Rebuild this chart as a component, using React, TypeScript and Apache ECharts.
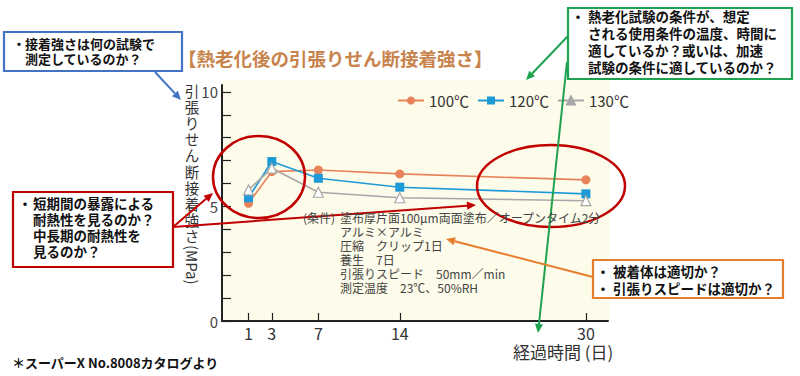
import React, { useEffect, useRef } from "react";
import * as echarts from "echarts";

// ---- data ----
const days = [1, 3, 7, 14, 30];
const dayTicks = [1, 3, 7, 14, 30];
const yTicks = [0, 1, 2, 3, 4, 5, 6, 7, 8, 9, 10];
const yLabels = [0, 5, 10];
const s100 = [5.14, 6.52, 6.59, 6.42, 6.16];
const s120 = [5.38, 6.96, 6.23, 5.84, 5.55];
const s130 = [5.72, 6.67, 5.62, 5.38, 5.25];
const seriesNames = ["100℃", "120℃", "130℃"];

// ---- texts ----
const title = "【熱老化後の引張りせん断接着強さ】";
const yName = "引張りせん断接着強さ";
const yUnit = "(MPa)";
const xName = "経過時間 (日)";
const condPrefix = "(条件)";
const condLines = [
  "塗布厚片面100μm両面塗布／オープンタイム2分",
  "アルミ×アルミ",
  "圧縮　クリップ1日",
  "養生　7日",
  "引張りスピード　50mm／min",
  "測定温度　23℃、50%RH",
];
const noteBlue = ["接着強さは何の試験で", "測定しているのか？"];
const noteGreen = [
  "熱老化試験の条件が、想定",
  "される使用条件の温度、時間に",
  "適しているか？或いは、加速",
  "試験の条件に適しているのか？",
];
const noteRed = ["短期間の暴露による", "耐熱性を見るのか？", "中長期の耐熱性を", "見るのか？"];
const noteOrange = ["被着体は適切か？", "引張りスピードは適切か？"];
const footnote = "＊スーパーX No.8008カタログより";

const FONT = '"Noto Sans CJK JP", "Noto Sans", sans-serif';
const C100 = "#E8825A";
const C120 = "#1E9AD8";
const C130 = "#A8A8A8";
const BLUE = "#4472C4";
const GREEN = "#1FA24F";
const RED = "#C00000";
const ORANGE = "#E67E2E";

function arrow(x1: number, y1: number, x2: number, y2: number, color: string, w = 2, head = 9) {
  const a = Math.atan2(y2 - y1, x2 - x1);
  const bx = x2 - head * Math.cos(a);
  const by = y2 - head * Math.sin(a);
  const px = -Math.sin(a) * head * 0.45;
  const py = Math.cos(a) * head * 0.45;
  return [
    { type: "line", z: 60, shape: { x1, y1, x2: bx, y2: by }, style: { stroke: color, lineWidth: w } },
    {
      type: "polygon",
      z: 60,
      shape: { points: [[x2, y2], [bx + px, by + py], [bx - px, by - py]] },
      style: { fill: color },
    },
  ];
}

function txt(x: number, y: number, text: string, size: number, opts: any = {}) {
  return {
    type: "text",
    z: 61,
    x,
    y,
    style: {
      text,
      fontSize: size,
      fontFamily: FONT,
      fontWeight: opts.weight || "normal",
      fill: opts.fill || "#111",
      align: opts.align || "left",
      verticalAlign: "middle",
      lineHeight: opts.lineHeight,
    },
    rotation: opts.rotation || 0,
  };
}

function box(x: number, y: number, w: number, h: number, color: string) {
  return {
    type: "rect",
    z: 58,
    shape: { x, y, width: w, height: h },
    style: { fill: "#ffffff", stroke: color, lineWidth: 2.2 },
  };
}

function bulletLines(dotX: number, textX: number, y0: number, dy: number, lines: string[], size: number, bulletEach: boolean) {
  const out: any[] = [];
  lines.forEach((l, i) => {
    if (i === 0 || bulletEach) out.push(txt(dotX, y0 + i * dy, "・", size, { weight: "bold", align: "center" }));
    out.push(txt(textX, y0 + i * dy, l, size, { weight: "bold" }));
  });
  return out;
}

export default function App() {
  const ref = useRef<HTMLDivElement>(null);
  useEffect(() => {
    if (!ref.current) return;
    const chart = echarts.init(ref.current, undefined, { renderer: "svg" });

    const graphics: any[] = [
      { type: "rect", z: -10, shape: { x: 222, y: 80, width: 388, height: 241 }, style: { fill: "#FDFBE9" } },
      txt(178, 58, title, 18.5, { weight: "bold", fill: "#C8844C" }),
      // y axis name (vertical)
      {
        type: "text",
        z: 5,
        x: 192,
        y: 82,
        style: {
          text: yName.split("").join("\n"),
          fontSize: 14.5,
          lineHeight: 16.2,
          fontFamily: FONT,
          fill: "#333",
          align: "center",
          verticalAlign: "top",
        },
      },
      {
        type: "text",
        z: 5,
        x: 192,
        y: 245,
        rotation: -Math.PI / 2,
        style: { text: yUnit, fontSize: 15, fontFamily: FONT, fill: "#333", align: "left", verticalAlign: "middle" },
      },
      txt(513, 351, xName, 17, { fill: "#333" }),
      // conditions
      txt(303, 217, condPrefix, 12, { fill: "#444" }),
      ...condLines.map((l, i) => txt(340, 217 + i * 14, l, 12, { fill: "#444" })),
      // red ellipses
      { type: "ellipse", z: 59, shape: { cx: 259, cy: 177, rx: 46, ry: 41 }, style: { fill: "none", stroke: RED, lineWidth: 2.5 } },
      { type: "ellipse", z: 59, shape: { cx: 551, cy: 186, rx: 74, ry: 41 }, style: { fill: "none", stroke: RED, lineWidth: 2.5 } },
      // arrows
      ...arrow(155, 72, 181, 100, BLUE),
      ...arrow(568, 36, 526, 80, GREEN),
      ...arrow(567, 62, 538, 333, GREEN),
      ...arrow(173, 227, 213, 193, RED),
      ...arrow(173, 227, 476, 205, RED),
      ...arrow(593, 277, 446, 239, ORANGE),
      // boxes
      box(4, 32, 178, 39, BLUE),
      ...bulletLines(19, 25, 43, 15, noteBlue, 13, false),
      box(568, 8, 224, 71, GREEN),
      ...bulletLines(578, 588, 16, 17, noteGreen, 13.5, false),
      box(13, 192, 160, 75, RED),
      ...bulletLines(25, 33, 203, 16, noteRed, 13.5, false),
      box(593, 260, 190, 38, ORANGE),
      ...bulletLines(603, 613, 271, 17, noteOrange, 13.5, true),
      txt(12, 362, footnote, 13, { weight: "bold" }),
    ];

    chart.setOption({
      animation: false,
      textStyle: { fontFamily: FONT },
      legend: {
        left: 392,
        top: 88,
        itemWidth: 26,
        itemHeight: 10,
        itemGap: 8,
        textStyle: { fontSize: 15, color: "#333", fontFamily: FONT },
        data: [
          { name: seriesNames[0] },
          { name: seriesNames[1] },
          { name: seriesNames[2], itemStyle: { color: C130, borderColor: C130 } },
        ],
      },
      grid: { left: 222, right: 192, top: 85, bottom: 55, containLabel: false },
      xAxis: {
        type: "value",
        min: -1.28,
        max: 31.9,
        axisLine: { show: true, onZero: false, lineStyle: { color: "#222", width: 2 } },
        axisTick: { show: true, inside: true, length: 8, customValues: dayTicks, lineStyle: { color: "#222", width: 1.2 } },
        axisLabel: { customValues: dayTicks, fontSize: 16, color: "#333", margin: 4, fontFamily: FONT },
        splitLine: { show: false },
      },
      yAxis: {
        type: "value",
        min: 0,
        max: 10.3,
        axisLine: { show: true, onZero: false, lineStyle: { color: "#222", width: 2 } },
        axisTick: { show: true, inside: true, length: 9, customValues: yTicks, lineStyle: { color: "#222", width: 1.2 } },
        axisLabel: { customValues: yLabels, fontSize: 15, color: "#444", margin: 4, fontFamily: FONT },
        splitLine: { show: false },
      },
      series: [
        {
          type: "line",
          name: seriesNames[0],
          data: days.map((d, i) => [d, s100[i]]),
          symbol: "circle",
          symbolSize: 9,
          lineStyle: { color: C100, width: 1.6 },
          itemStyle: { color: C100 },
        },
        {
          type: "line",
          name: seriesNames[1],
          data: days.map((d, i) => [d, s120[i]]),
          symbol: "rect",
          symbolSize: 9,
          lineStyle: { color: C120, width: 1.6 },
          itemStyle: { color: C120 },
        },
        {
          type: "line",
          name: seriesNames[2],
          data: days.map((d, i) => [d, s130[i]]),
          symbol: "triangle",
          symbolSize: 10,
          lineStyle: { color: C130, width: 1.6 },
          itemStyle: { color: "#ffffff", borderColor: C130, borderWidth: 1.2 },
        },
      ],
      graphic: graphics,
    });
    return () => chart.dispose();
  }, []);
  return <div ref={ref} style={{ position: "absolute", left: 0, top: 0, width: 800, height: 376, background: "#fff" }} />;
}
